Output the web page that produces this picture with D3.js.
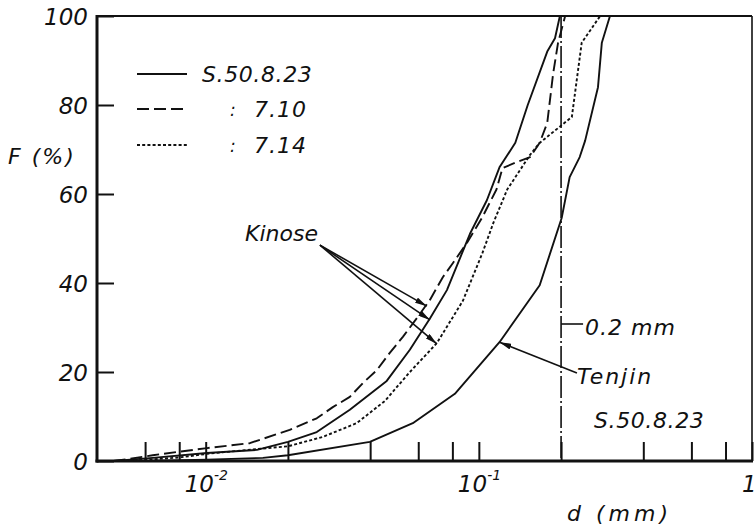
<!DOCTYPE html>
<html>
<head>
<meta charset="utf-8">
<script src="https://cdn.jsdelivr.net/npm/d3@7"></script>
<style>
  html, body { margin: 0; padding: 0; background: #fff; }
  svg { display: block; }
  text { font-family: "DejaVu Sans", "Open Sans", sans-serif; font-style: oblique; font-weight: normal; fill: #111; }
</style>
</head>
<body>
<svg id="chart" width="756" height="527"></svg>
<script>
// ---- data (d in mm, F in %) ----
const seriesNames = ["S.50.8.23", "7.10", "7.14", "Tenjin S.50.8.23"];

const dKinose0823 = [0.0046, 0.0053, 0.0064, 0.0101, 0.0154, 0.0200, 0.0255, 0.0337, 0.0460, 0.0559, 0.0662, 0.0764, 0.0927, 0.107, 0.119, 0.136, 0.151, 0.178, 0.190, 0.198];
const fKinose0823 = [0, 0.3, 0.7, 1.8, 2.5, 4.3, 6.5, 11.5, 18, 25, 32, 38.4, 51, 58.6, 66, 71.5, 80, 92, 95, 100];

const dKinose0710 = [0.0046, 0.0053, 0.0064, 0.0101, 0.0145, 0.0203, 0.0255, 0.0292, 0.0337, 0.0376, 0.0423, 0.0472, 0.0527, 0.0593, 0.0662, 0.0738, 0.0804, 0.0904, 0.103, 0.116, 0.122, 0.138, 0.154, 0.167, 0.178, 0.187, 0.195, 0.207];
const fKinose0710 = [0, 0.5, 1.3, 2.9, 4.0, 7.0, 9.6, 12.1, 14.4, 17.5, 20.4, 24.3, 27.9, 32.1, 36.2, 41.3, 44.5, 49, 54.8, 61, 65.8, 67.2, 68.3, 71.5, 76, 87, 94, 100];

const dKinose0714 = [0.0050, 0.0062, 0.0080, 0.0101, 0.0154, 0.0200, 0.0268, 0.0357, 0.0453, 0.0559, 0.0702, 0.0874, 0.103, 0.113, 0.127, 0.154, 0.167, 0.219, 0.238, 0.278];
const fKinose0714 = [0, 0.3, 0.8, 1.6, 2.7, 3.3, 5.4, 8.5, 13.5, 20, 26.5, 36, 46.7, 53.5, 61, 68.8, 71.5, 77.3, 94, 100];

const dTenjin0823 = [0.0060, 0.0101, 0.0162, 0.0200, 0.0399, 0.0573, 0.0817, 0.119, 0.167, 0.201, 0.215, 0.234, 0.245, 0.273, 0.282, 0.302];
const fTenjin0823 = [0, 0.3, 0.7, 1.3, 4.3, 8.5, 15.1, 26.7, 39.5, 54.6, 63.8, 68.3, 72, 84, 94, 100];

const xTickValues = [0.006, 0.008, 0.01, 0.02, 0.04, 0.06, 0.08, 0.1, 0.2, 0.4, 0.6, 0.8, 1];
const xTickLabels = [{v: 0.01, base: "10", exp: "-2"}, {v: 0.1, base: "10", exp: "-1"}, {v: 1, base: "1", exp: ""}];
const yTickValues = [0, 20, 40, 60, 80, 100];
const markerSize = 0.2;  // mm, dash-dot reference line
// annotation anchors (data space)
const kinoseLabel = {d: 0.0262, f: 48.5};
const kinoseTargets = [{d: 0.0645, f: 34.8}, {d: 0.0662, f: 31.7}, {d: 0.0702, f: 26.3}];
const tenjinLabel = {d: 0.2286, f: 19.8};
const tenjinTarget = {d: 0.119, f: 26.7};

// ---- layout ----
const svg = d3.select("#chart");
const mL = 97, mR = 752, mT = 16, mB = 461;
const x = d3.scaleLog().domain([0.004, 1]).range([mL, mR]);
const y = d3.scaleLinear().domain([0, 100]).range([mB, mT]);

const toPts = (ds, fs) => ds.map((d, i) => ({d: d, f: fs[i]}));
const line = d3.line().x(p => x(p.d)).y(p => y(p.f)).curve(d3.curveLinear);

// frame top/right (thin)
svg.append("line").attr("x1", mL).attr("x2", mR).attr("y1", mT).attr("y2", mT)
  .attr("stroke", "#111").attr("stroke-width", 2);
svg.append("line").attr("x1", mR).attr("x2", mR).attr("y1", mT).attr("y2", mB)
  .attr("stroke", "#111").attr("stroke-width", 1.6);

// y axis
const yAxis = svg.append("g").attr("transform", `translate(${mL},0)`)
  .call(d3.axisLeft(y).tickValues(yTickValues).tickSize(-17).tickPadding(9));
yAxis.select(".domain").remove();
yAxis.selectAll(".tick line").attr("stroke", "#111").attr("stroke-width", 2);
yAxis.selectAll(".tick text").attr("font-size", 23).attr("fill", "#111").attr("dy", "0.36em")
  .style("font-family", '"DejaVu Sans", "Open Sans", sans-serif').style("font-style", "oblique").style("font-weight", "normal");
svg.append("line").attr("x1", mL).attr("x2", mL).attr("y1", mT - 1).attr("y2", mB + 1.5)
  .attr("stroke", "#111").attr("stroke-width", 3);

// x axis
const xAxis = svg.append("g").attr("transform", `translate(0,${mB})`)
  .call(d3.axisBottom(x).tickValues(xTickValues).tickSize(-19).tickFormat(""));
xAxis.select(".domain").remove();
xAxis.selectAll(".tick line").attr("stroke", "#111").attr("stroke-width", 2);
svg.append("line").attr("x1", mL - 1.5).attr("x2", mR + 1).attr("y1", mB).attr("y2", mB)
  .attr("stroke", "#111").attr("stroke-width", 3);

xTickLabels.forEach(t => {
  const tx = svg.append("text").attr("y", 492).attr("font-size", 23);
  if (t.exp) {
    tx.attr("x", x(t.v) - 21);
    tx.append("tspan").text(t.base);
    tx.append("tspan").attr("dy", -12).attr("font-size", 14).text(t.exp);
  } else {
    tx.attr("x", x(t.v) - 10).text(t.base);
  }
});

// axis titles
svg.append("text").attr("x", 8).attr("y", 164).attr("font-size", 22)
  .style("letter-spacing", "2px").text("F (%)");
svg.append("text").attr("x", 567).attr("y", 521).attr("font-size", 22)
  .style("letter-spacing", "4px").text("d (mm)");

// 0.2 mm dash-dot line
svg.append("line").attr("x1", x(markerSize)).attr("x2", x(markerSize)).attr("y1", mT).attr("y2", mB)
  .attr("stroke", "#111").attr("stroke-width", 1.6).attr("stroke-dasharray", "22 3 2 3");

// curves
const curves = [
  {pts: toPts(dKinose0823, fKinose0823), dash: null},
  {pts: toPts(dKinose0710, fKinose0710), dash: "12 5"},
  {pts: toPts(dKinose0714, fKinose0714), dash: "3 2.2"},
  {pts: toPts(dTenjin0823, fTenjin0823), dash: null}
];
curves.forEach(c => {
  svg.append("path").attr("d", line(c.pts)).attr("fill", "none").attr("stroke", "#111")
    .attr("stroke-width", 1.9).attr("stroke-linejoin", "round").attr("stroke-dasharray", c.dash);
});

// legend
const legendRows = [
  {label: "S.50.8.23", colon: false, dash: null, yy: 74},
  {label: "7.10", colon: true, dash: "12 5", yy: 109},
  {label: "7.14", colon: true, dash: "3 2.2", yy: 145}
];
legendRows.forEach(r => {
  svg.append("line").attr("x1", 137).attr("x2", 187).attr("y1", r.yy).attr("y2", r.yy)
    .attr("stroke", "#111").attr("stroke-width", 1.9).attr("stroke-dasharray", r.dash);
  if (r.colon) {
    svg.append("text").attr("x", 230).attr("y", r.yy + 7).attr("font-size", 17).text(":");
    svg.append("text").attr("x", 254).attr("y", r.yy + 8).attr("font-size", 22)
      .style("letter-spacing", "1px").text(r.label);
  } else {
    svg.append("text").attr("x", 202).attr("y", r.yy + 8).attr("font-size", 22)
      .style("letter-spacing", "0.6px").text(r.label);
  }
});

// arrow marker
const defs = svg.append("defs");
defs.append("marker").attr("id", "arr").attr("viewBox", "0 0 12 6").attr("refX", 12).attr("refY", 3)
  .attr("markerWidth", 12).attr("markerHeight", 6).attr("markerUnits", "userSpaceOnUse").attr("orient", "auto")
  .append("path").attr("d", "M0,0 L12,3 L0,6 Z").attr("fill", "#111");

// Kinose annotation
svg.append("text").attr("x", x(kinoseLabel.d) - 2).attr("y", y(kinoseLabel.f) - 4)
  .attr("text-anchor", "end").attr("font-size", 22).text("Kinose");
kinoseTargets.forEach(t => {
  svg.append("line").attr("x1", x(kinoseLabel.d)).attr("y1", y(kinoseLabel.f))
    .attr("x2", x(t.d)).attr("y2", y(t.f)).attr("stroke", "#111").attr("stroke-width", 1.6)
    .attr("marker-end", "url(#arr)");
});

// Tenjin annotation
svg.append("line").attr("x1", x(tenjinLabel.d)).attr("y1", y(tenjinLabel.f))
  .attr("x2", x(tenjinTarget.d)).attr("y2", y(tenjinTarget.f)).attr("stroke", "#111").attr("stroke-width", 1.6)
  .attr("marker-end", "url(#arr)");
svg.append("text").attr("x", x(tenjinLabel.d)).attr("y", y(tenjinLabel.f) + 11).attr("font-size", 22)
  .style("letter-spacing", "2px").text("Tenjin");
svg.append("text").attr("x", 594).attr("y", 428).attr("font-size", 22)
  .style("letter-spacing", "0.6px").text("S.50.8.23");

// 0.2 mm label
svg.append("line").attr("x1", x(markerSize)).attr("x2", x(markerSize) + 22).attr("y1", 324).attr("y2", 324)
  .attr("stroke", "#111").attr("stroke-width", 1.6);
svg.append("text").attr("x", x(markerSize) + 24).attr("y", 335).attr("font-size", 22)
  .style("letter-spacing", "1px").text("0.2 mm");
</script>
</body>
</html>
